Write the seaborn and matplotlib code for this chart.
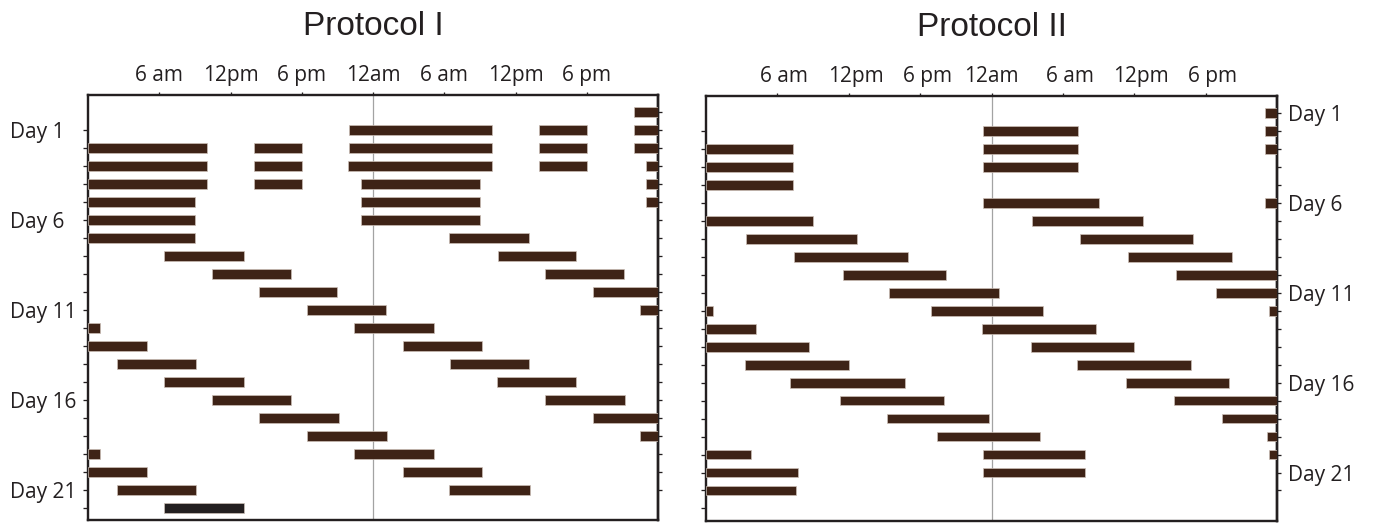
import matplotlib
matplotlib.use("Agg")
import matplotlib.pyplot as plt
import seaborn as sns
from matplotlib.transforms import ScaledTranslation

sns.set_theme(style="white")
plt.rcParams["font.family"] = ["Open Sans", "DejaVu Sans"]

# Clock ticks across the double-plotted 48 h window
hour_ticks = [6, 12, 18, 24, 30, 36, 42]
hour_labels = ["6 am", "12pm", "6 pm", "12am", "6 am", "12pm", "6 pm"]

# Protocol I: activity bouts per row (row, onset h, offset h)
p1_row = [0,
          1, 1, 1,
          2, 2, 2, 2, 2,
          3, 3, 3, 3, 3,
          4, 4, 4, 4,
          5, 5, 5,
          6, 6,
          7, 7,
          8, 8,
          9, 9,
          10, 10,
          11, 11,
          12, 12,
          13, 13,
          14, 14,
          15, 15,
          16, 16,
          17, 17,
          18, 18,
          19, 19,
          20, 20,
          21, 21]
p1_on = [46,
         22, 38, 46,
         0, 14, 22, 38, 46,
         0, 14, 21.9, 38, 47,
         0, 14, 23, 47,
         0, 23, 47,
         0, 23,
         0, 30.4,
         6.4, 34.5,
         10.4, 38.5,
         14.4, 42.5,
         18.4, 46.5,
         0, 22.4,
         0, 26.5,
         2.4, 30.5,
         6.4, 34.4,
         10.4, 38.5,
         14.4, 42.5,
         18.4, 46.5,
         0, 22.4,
         0, 26.5,
         2.4, 30.4]
p1_off = [48,
          34, 42, 48,
          10, 18, 34, 42, 48,
          10, 18, 34, 42, 48,
          10, 18, 33, 48,
          9, 33, 48,
          9, 33,
          9, 37.1,
          13.1, 41.1,
          17.1, 45.1,
          21.0, 48,
          25.1, 48,
          1, 29.1,
          5, 33.2,
          9.1, 37.1,
          13.1, 41.1,
          17.1, 45.2,
          21.1, 48,
          25.15, 48,
          1, 29.1,
          5, 33.2,
          9.1, 37.2]
# Protocol I: final bout, drawn in black
p1_end_row = [22]
p1_end_on = [6.4]
p1_end_off = [13.1]

# Protocol II: activity bouts per row
p2_row = [0,
          1, 1,
          2, 2, 2,
          3, 3,
          4,
          5, 5,
          6, 6,
          7, 7,
          8, 8,
          9, 9,
          10, 10,
          11, 11, 11,
          12, 12,
          13, 13,
          14, 14,
          15, 15,
          16, 16,
          17, 17,
          18, 18,
          19, 19, 19,
          20, 20,
          21]
p2_on = [47,
         23.25, 47,
         0, 23.25, 47,
         0, 23.25,
         0,
         23.25, 47,
         0, 27.4,
         3.4, 31.4,
         7.4, 35.5,
         11.5, 39.55,
         15.4, 42.9,
         0, 18.9, 47.3,
         0, 23.2,
         0, 27.3,
         3.3, 31.15,
         7.1, 35.3,
         11.3, 39.3,
         15.2, 43.4,
         19.4, 47.2,
         0, 23.25, 47.3,
         0, 23.25,
         0]
p2_off = [48,
          31.3, 48,
          7.3, 31.3, 48,
          7.3, 31.3,
          7.3,
          33.0, 48,
          9.0, 36.7,
          12.7, 40.95,
          16.95, 44.2,
          20.2, 48,
          24.6, 48,
          0.6, 28.3, 48,
          4.2, 32.8,
          8.7, 36.0,
          12.0, 40.75,
          16.7, 44.0,
          20.0, 48,
          23.8, 48,
          28.1, 48,
          3.8, 31.9, 48,
          7.7, 31.9,
          7.6]

BAR = "#3e2316"
BAR_END = "#231f20"
INK = "#231f20"
BAR_H = 0.54
PT = 72 / 100  # points per pixel at 100 dpi

fig = plt.figure(figsize=(13.75, 5.25), dpi=100)
W, H = 1375, 525
ax1 = fig.add_axes([88 / W, 5 / H, 570 / W, 425 / H])
ax2 = fig.add_axes([706 / W, 4.5 / H, 571 / W, 424.5 / H])


def draw_bouts(ax, rows, on, off, color):
    widths = [b - a for a, b in zip(on, off)]
    ax.barh(rows, widths, left=on, height=BAR_H, color=color,
            edgecolor="#cbbfb6", linewidth=0.5, zorder=3)


def style_axes(ax):
    ax.set_xlim(0, 48)
    ax.set_ylim(22.67, -0.95)
    ax.axvline(24, color="#a3a3a3", lw=0.9, zorder=1)
    for s in ax.spines.values():
        s.set_visible(True)
        s.set_color(INK)
        s.set_linewidth(2.4 * PT)
    ax.xaxis.tick_top()
    ax.set_xticks(hour_ticks)
    ax.set_xticklabels(hour_labels, fontsize=15, color="#231f20")
    ax.tick_params(axis="x", which="major", top=True, bottom=False,
                   direction="out", length=3 * PT, width=1.3 * PT,
                   color=INK, pad=4)
    ax.set_xlabel("")
    ax.set_ylabel("")
    ax.grid(False)


style_axes(ax1)
style_axes(ax2)

# the second panel's clock labels (except midnight) sit a little right of their ticks
shift = ScaledTranslation(7 / 100, 0, fig.dpi_scale_trans)
for lab, h in zip(ax2.get_xticklabels(), hour_ticks):
    if h != 24:
        lab.set_transform(lab.get_transform() + shift)

draw_bouts(ax1, p1_row, p1_on, p1_off, BAR)
draw_bouts(ax1, p1_end_row, p1_end_on, p1_end_off, BAR_END)
draw_bouts(ax2, p2_row, p2_on, p2_off, BAR)

day_rows_left = list(range(1, 23))
day_rows_right = list(range(0, 22))

# Protocol I: day labels on the left, left-aligned at the figure margin
ax1.set_yticks(day_rows_left)
ax1.set_yticklabels([f"Day {r}" if r % 5 == 1 else "" for r in day_rows_left],
                    fontsize=15, color="#231f20", ha="left")
ax1.tick_params(axis="y", direction="out", length=5 * PT, width=1.3 * PT,
                color=INK, pad=(78 - 5) * PT, left=True, right=False)
sec1 = ax1.secondary_yaxis("right")
sec1.set_yticks(day_rows_right)
sec1.set_yticklabels([])
sec1.tick_params(axis="y", direction="out", length=4 * PT, width=1.3 * PT, color=INK)
sec1.spines["right"].set_color(INK)
sec1.spines["right"].set_linewidth(2.4 * PT)

# Protocol II: day labels on the right
ax2.set_yticks(day_rows_left)
ax2.set_yticklabels([])
ax2.tick_params(axis="y", direction="out", length=5 * PT, width=1.3 * PT,
                color=INK, left=True, right=False)
sec2 = ax2.secondary_yaxis("right")
sec2.set_yticks(day_rows_right)
sec2.set_yticklabels([f"Day {r + 1}" if r % 5 == 0 else "" for r in day_rows_right],
                     fontsize=15, color="#231f20")
sec2.tick_params(axis="y", direction="out", length=4 * PT, width=1.3 * PT,
                 color=INK, pad=7 * PT)
sec2.spines["right"].set_color(INK)
sec2.spines["right"].set_linewidth(2.4 * PT)

for ax, title in [(ax1, "Protocol I"), (ax2, "Protocol II")]:
    ax.text(0.5, 1 + 60 / 425, title, transform=ax.transAxes, ha="center",
            va="baseline", fontsize=24, family="Liberation Sans", color="#231f20")

fig.savefig("out.png", dpi=100, facecolor="white")
